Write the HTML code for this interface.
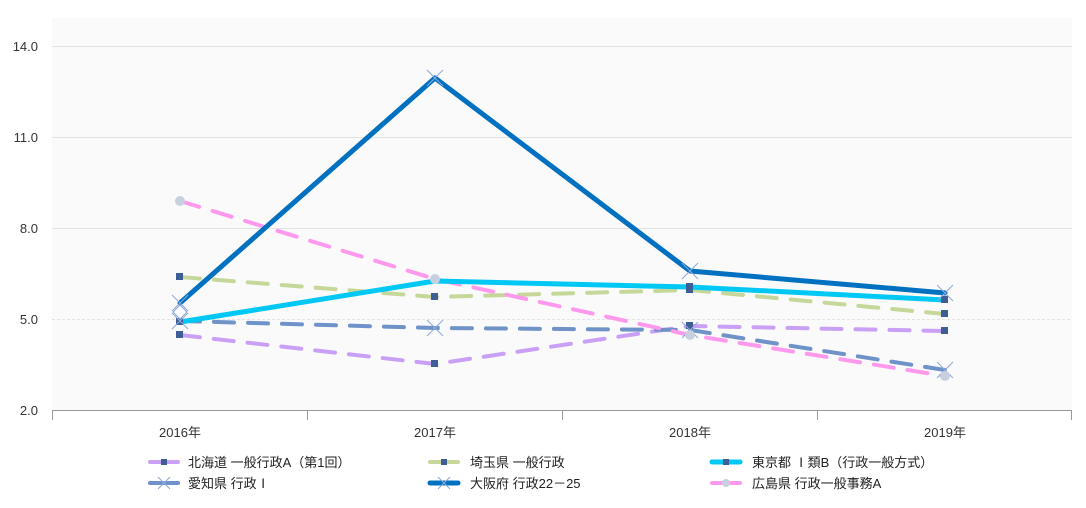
<!DOCTYPE html><html><head><meta charset="utf-8"><style>body{margin:0;background:#fff}svg{display:block;font-family:"Liberation Sans","Noto Sans CJK JP",sans-serif}</style></head><body>
<svg width="1086" height="508" xmlns="http://www.w3.org/2000/svg">
<rect x="52" y="18" width="1020" height="392" fill="#fafafa"/>
<g stroke="#e3e3e3" stroke-width="1">
<line x1="52" y1="46.5" x2="1072" y2="46.5"/><line x1="52" y1="137.5" x2="1072" y2="137.5"/><line x1="52" y1="228.5" x2="1072" y2="228.5"/><line x1="52" y1="319.5" x2="1072" y2="319.5" stroke-dasharray="3,2"/></g>
<g stroke="#999" stroke-width="1"><line x1="52" y1="410.5" x2="1072" y2="410.5"/>
<line x1="52.5" y1="410" x2="52.5" y2="420"/><line x1="307.5" y1="410" x2="307.5" y2="420"/><line x1="562.5" y1="410" x2="562.5" y2="420"/><line x1="817.5" y1="410" x2="817.5" y2="420"/><line x1="1071.5" y1="410" x2="1071.5" y2="420"/></g>
<g font-size="13" fill="#333" text-anchor="end"><text x="38" y="51">14.0</text><text x="38" y="142">11.0</text><text x="38" y="233">8.0</text><text x="38" y="324">5.0</text><text x="38" y="415">2.0</text></g>
<g font-size="13" fill="#333" text-anchor="middle"><text x="180" y="437">2016年</text><text x="435" y="437">2017年</text><text x="690" y="437">2018年</text><text x="945" y="437">2019年</text></g>
<g fill="none" stroke-linejoin="round" stroke-linecap="round">
<polyline points="180,335 435,364 690,326 945,331" stroke="#c9a0f5" stroke-width="4" stroke-dasharray="20,14"/>
<polyline points="180,277 435,297 690,290 945,314" stroke="#c5d89a" stroke-width="4" stroke-dasharray="20,14"/>
<polyline points="180,321 435,328 690,330 945,370" stroke="#6f93c8" stroke-width="4" stroke-dasharray="20,14"/>
<polyline points="180,201 435,279 690,335 945,376" stroke="#ff99ee" stroke-width="4" stroke-dasharray="20,14"/>
<polyline points="180,322 435,281 690,287 945,300" stroke="#00c8f5" stroke-width="5"/>
<polyline points="180,303 435,78 690,271 945,293" stroke="#0070c0" stroke-width="5"/>
</g>
<g fill="#3e5f96"><rect x="176" y="331" width="7" height="7"/><rect x="431" y="360" width="7" height="7"/><rect x="686" y="322" width="7" height="7"/><rect x="941" y="327" width="7" height="7"/>
<rect x="176" y="273" width="7" height="7"/><rect x="431" y="293" width="7" height="7"/><rect x="686" y="286" width="7" height="7"/><rect x="941" y="310" width="7" height="7"/>
<rect x="176" y="318" width="7" height="7"/><rect x="686" y="283" width="7" height="7"/><rect x="941" y="296" width="7" height="7"/></g>
<g stroke="#8fa8d8" stroke-width="1"><path d="M172,313l16,16M188,313l-16,16M427,320l16,16M443,320l-16,16M682,322l16,16M698,322l-16,16M937,362l16,16M953,362l-16,16M172,295l16,16M188,295l-16,16M427,70l16,16M443,70l-16,16M682,263l16,16M698,263l-16,16M937,285l16,16M953,285l-16,16"/></g>
<g fill="#c8d0e0"><circle cx="180" cy="201" r="5"/><circle cx="435" cy="279" r="5"/><circle cx="690" cy="335" r="5"/><circle cx="945" cy="376" r="5"/></g>
<path d="M180,305l7,7l-7,7l-7,-7z" fill="#fff" stroke="#8fa8d8"/>
<g stroke-width="4" stroke-linecap="round">
<line x1="150" y1="462" x2="178" y2="462" stroke="#c9a0f5"/><line x1="150" y1="483" x2="178" y2="483" stroke="#6f93c8"/>
<line x1="430" y1="462" x2="458" y2="462" stroke="#c5d89a"/><line x1="430" y1="483" x2="458" y2="483" stroke="#0070c0" stroke-width="5"/>
<line x1="712" y1="462" x2="740" y2="462" stroke="#00c8f5" stroke-width="5"/><line x1="712" y1="483" x2="740" y2="483" stroke="#ff99ee"/></g>
<g fill="#3e5f96"><rect x="161" y="459" width="6" height="6"/><rect x="441" y="459" width="6" height="6"/><rect x="723" y="459" width="6" height="6"/></g>
<circle cx="726" cy="483" r="4" fill="#c8d0e0"/>
<g stroke="#8fa8d8" stroke-width="1"><path d="M158,477l12,12M170,477l-12,12M438,477l12,12M450,477l-12,12"/></g>
<g font-size="13" fill="#222" xml:space="preserve"><text x="188" y="467">北海道  一般行政A（第1回）</text><text x="188" y="488">愛知県  行政Ⅰ</text>
<text x="470" y="467">埼玉県  一般行政</text><text x="470" y="488">大阪府  行政22－25</text>
<text x="752" y="467">東京都  Ⅰ類B（行政一般方式）</text><text x="752" y="488">広島県  行政一般事務A</text></g>
</svg></body></html>
